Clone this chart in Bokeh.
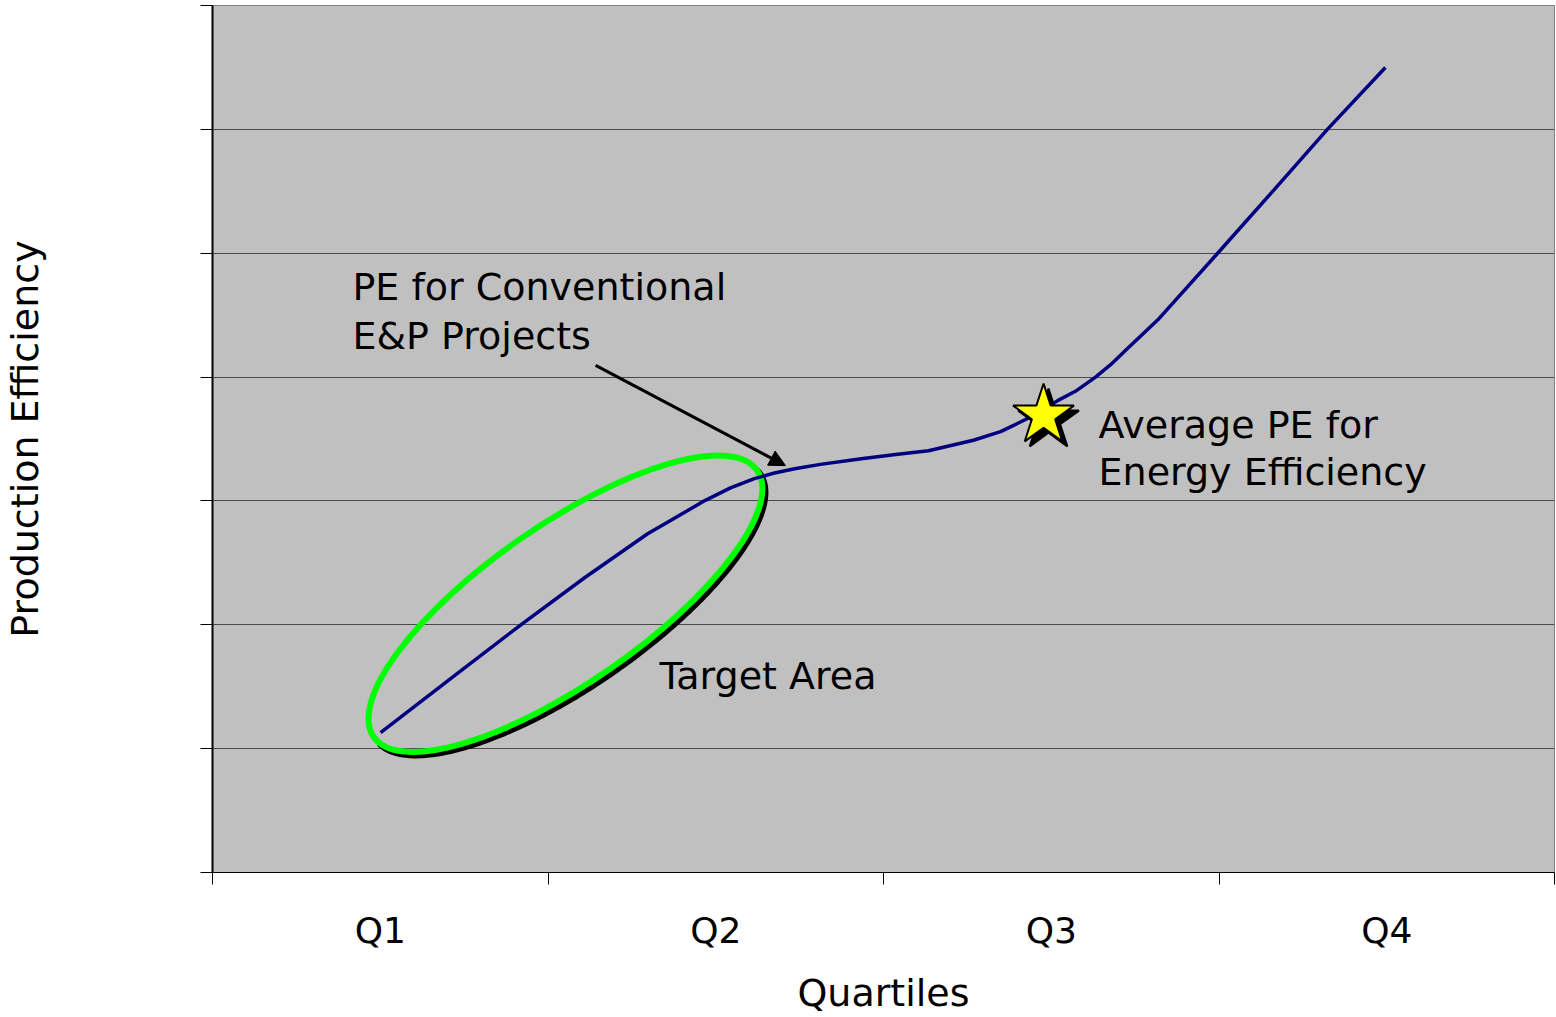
import math
import numpy as np
from bokeh.plotting import figure
from bokeh.models import Range1d, FixedTicker, Arrow, NormalHead, Label
from bokeh.embed import file_html
from bokeh.resources import INLINE

# ---- data ----
quartiles = ["Q1", "Q2", "Q3", "Q4"]
quartile_pos = [0.5, 1.5, 2.5, 3.5]
quartile_bounds = [0, 1, 2, 3, 4]
y_ticks = [0, 20, 40, 60, 80, 100, 120, 140]
y_tick_labels = ["0", "20", "40", "60", "80", "100", "120", ""]

curve_x = [0.501, 0.736, 0.924, 1.109, 1.297, 1.469, 1.544, 1.615, 1.675, 1.735, 1.812,
           1.934, 2.036, 2.134, 2.268, 2.349, 2.399, 2.459, 2.519, 2.572, 2.632,
           2.677, 2.721, 2.817, 2.996, 3.162, 3.323, 3.496]
curve_y = [22.6, 32.4, 40.2, 47.6, 54.7, 60.1, 62.1, 63.6, 64.5, 65.2, 65.9,
           66.8, 67.5, 68.1, 69.8, 71.2, 72.5, 74.1, 76.2, 77.7, 80.0,
           82.0, 84.3, 89.2, 100.0, 110.1, 120.0, 130.0]

star_x = [2.477]
star_y = [73.8]
target_x = [1.052]
target_y = [43.4]

FONT = "DejaVu Sans"

W, H = 1556, 1017
BL, BR, BT, BB = 212, 2, 5, 145
X0, X1, Y0, Y1 = 0, 4, 0, 140

p = figure(width=W, height=H,
           x_range=Range1d(X0, X1), y_range=Range1d(Y0, Y1),
           output_backend="svg", toolbar_location=None,
           min_border_left=BL, min_border_right=BR,
           min_border_top=BT, min_border_bottom=BB)

# pixels per data unit (for screen-space offsets of decorations)
sx = (W - BL - BR) / (X1 - X0)
sy = (H - BT - BB) / (Y1 - Y0)

p.background_fill_color = "#C0C0C0"
p.border_fill_color = "white"
p.outline_line_color = "#808080"

# grid
p.xgrid.grid_line_color = None
p.ygrid.ticker = FixedTicker(ticks=y_ticks)
p.ygrid.grid_line_color = "#4a4a4a"
p.ygrid.grid_line_width = 1

# x axis
xa = p.xaxis[0]
xa.ticker = FixedTicker(ticks=quartile_pos, minor_ticks=quartile_bounds)
xa.major_label_overrides = {q: lab for q, lab in zip(quartile_pos, quartiles)}
xa.major_tick_out = 0
xa.major_tick_in = 0
xa.minor_tick_out = 12
xa.minor_tick_in = 0
xa.minor_tick_line_color = "black"
xa.axis_line_color = "black"
xa.major_label_text_font = FONT
xa.major_label_text_font_size = "36px"
xa.major_label_text_color = "black"
xa.major_label_standoff = 25
xa.axis_label = "Quartiles"
xa.axis_label_text_font = FONT
xa.axis_label_text_font_size = "38px"
xa.axis_label_text_font_style = "normal"
xa.axis_label_text_color = "black"
xa.axis_label_standoff = 17

# y axis
ya = p.yaxis[0]
ya.ticker = FixedTicker(ticks=y_ticks)
ya.major_label_overrides = {t: s for t, s in zip(y_ticks, y_tick_labels)}
ya.major_tick_out = 12
ya.major_tick_in = 0
ya.minor_tick_line_color = None
ya.major_tick_line_color = "black"
ya.axis_line_color = "black"
ya.axis_line_width = 2
ya.major_label_text_font = FONT
ya.major_label_text_font_size = "30px"
ya.major_label_text_color = "white"
ya.major_label_standoff = 23
ya.axis_label = "Production Efficiency"
ya.axis_label_text_font = FONT
ya.axis_label_text_font_size = "38px"
ya.axis_label_text_font_style = "normal"
ya.axis_label_text_color = "black"
ya.axis_label_standoff = 70

# target ellipse: shadow on lower-right side, then green outline
A, B = 233.5, 79.0          # semi-axes in screen px
th = math.radians(34.8)
t = np.linspace(0, 2 * np.pi, 361)
ux = A * np.cos(t) * math.cos(th) - B * np.sin(t) * math.sin(th)
uy = A * np.cos(t) * math.sin(th) + B * np.sin(t) * math.cos(th)
nx = B * np.cos(t) * math.cos(th) - A * np.sin(t) * math.sin(th)
ny = B * np.cos(t) * math.sin(th) + A * np.sin(t) * math.cos(th)
vis = (nx - ny) > 0
sh_x = target_x[0] + (ux + 3) / sx
sh_y = np.where(vis, target_y[0] + (uy - 3.5) / sy, np.nan)
p.line(sh_x, sh_y, line_color="black", line_width=6, line_cap="round")
p.ellipse(x=target_x, y=target_y, width=2 * A, height=2 * B, angle=th,
          width_units="screen", height_units="screen",
          fill_color=None, line_color="#00FF00", line_width=6)

# curve
p.line(curve_x, curve_y, line_color="#000080", line_width=3.5, line_join="round")

# arrow
p.add_layout(Arrow(end=NormalHead(size=16, fill_color="black", line_color="black"),
                   x_start=1.142, y_start=81.9, x_end=1.708, y_end=65.7,
                   line_color="black", line_width=3))

# star (shadow + yellow)
p.scatter([v + 5 / sx for v in star_x], [v - 5 / sy for v in star_y], marker="star",
          size=64, fill_color="black", line_color="black", line_width=2)
p.scatter(star_x, star_y, marker="star", size=64,
          fill_color="#FFFF00", line_color="black", line_width=2)

# annotations
def lab(x, y, txt):
    p.add_layout(Label(x=x, y=y, text=txt, text_font=FONT, text_font_size="38px",
                       text_color="black", text_baseline="middle", text_align="left"))

lab(0.417, 94.5, "PE for Conventional")
lab(0.417, 86.7, "E&P Projects")
lab(2.641, 72.3, "Average PE for")
lab(2.641, 64.6, "Energy Efficiency")
lab(1.332, 31.8, "Target Area")

open("out.html", "w").write(file_html(p, INLINE))
